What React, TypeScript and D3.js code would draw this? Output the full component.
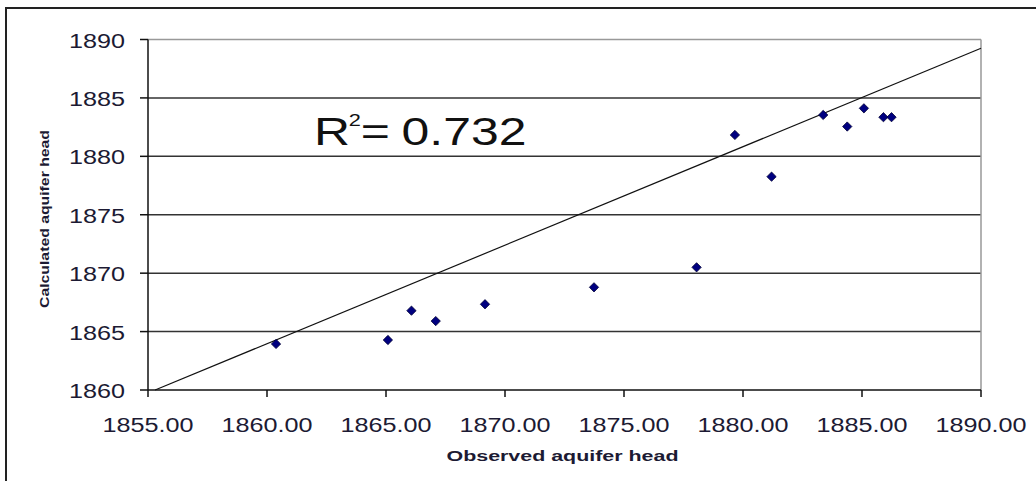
import React from "react";
import * as d3 from "d3";

// Observed vs calculated aquifer head (ft)
const observedHead = [
  1860.38, 1865.08, 1866.07, 1867.09, 1869.16, 1873.74, 1878.05,
  1879.66, 1881.2, 1883.37, 1884.38, 1885.08, 1885.9, 1886.24,
];
const calculatedHead = [
  1863.94, 1864.28, 1866.79, 1865.9, 1867.34, 1868.79, 1870.5,
  1881.83, 1878.26, 1883.54, 1882.55, 1884.11, 1883.35, 1883.35,
];
const xTicks = [1855, 1860, 1865, 1870, 1875, 1880, 1885, 1890];
const yTicks = [1860, 1865, 1870, 1875, 1880, 1885, 1890];
// Linear trendline: y = intercept + slope * x
const trendSlope = 0.843;
const trendIntercept = 1860.17 - 0.843 * 1855.5;
const rSquared = "0.732";

const W = 1036;
const H = 481;
const plot = { left: 148, right: 981, top: 39.5, bottom: 390 };
const SX = 1.2; // horizontal stretch of the lettering

export default function App() {
  const x = d3.scaleLinear().domain([1855, 1890]).range([plot.left, plot.right]);
  const y = d3.scaleLinear().domain([1860, 1890]).range([plot.bottom, plot.top]);

  // trendline clipped to the plot box
  const lineX0 = Math.max(1855, (1860 - trendIntercept) / trendSlope);
  const lineX1 = Math.min(1890, (1890 - trendIntercept) / trendSlope);
  const trend = d3.line<number>()
    .x((d) => x(d))
    .y((d) => y(trendIntercept + trendSlope * d))([lineX0, lineX1]);

  const diamond = d3.symbol().type(d3.symbolDiamond2).size(55)();

  const textColor = "#1c1a33";
  const font = "'Liberation Sans', Arial, sans-serif";

  return (
    <svg width={W} height={H} style={{ position: "absolute", left: 0, top: 0 }}>
      <rect x={0} y={0} width={W} height={H} fill="#fff" />
      {/* chart frame */}
      <rect x={6} y={8} width={W + 20} height={H + 20} fill="none" stroke="#222" strokeWidth={2} />

      {/* horizontal gridlines */}
      {yTicks.filter((t) => t !== 1860 && t !== 1890).map((t) => (
        <line key={t} x1={plot.left} x2={plot.right} y1={y(t)} y2={y(t)} stroke="#333" strokeWidth={1.5} />
      ))}
      {/* plot border top/right */}
      <line x1={plot.left} x2={plot.right} y1={plot.top} y2={plot.top} stroke="#999" strokeWidth={1.5} />
      <line x1={plot.right} x2={plot.right} y1={plot.top} y2={plot.bottom} stroke="#999" strokeWidth={1.5} />

      {/* axes */}
      <line x1={plot.left} x2={plot.left} y1={plot.top} y2={plot.bottom} stroke="#111" strokeWidth={1.5} />
      <line x1={plot.left} x2={plot.right} y1={plot.bottom} y2={plot.bottom} stroke="#111" strokeWidth={1.5} />
      {yTicks.map((t) => (
        <line key={t} x1={plot.left - 8} x2={plot.left} y1={y(t)} y2={y(t)} stroke="#111" strokeWidth={1.5} />
      ))}
      {xTicks.map((t) => (
        <line key={t} x1={x(t)} x2={x(t)} y1={plot.bottom} y2={plot.bottom + 7} stroke="#111" strokeWidth={1.5} />
      ))}

      {/* tick labels */}
      {yTicks.map((t) => (
        <text key={t} transform={`translate(125,${y(t) + 8}) scale(${SX},1)`} textAnchor="end"
          fontFamily={font} fontSize={21} fill={textColor}>{t}</text>
      ))}
      {xTicks.map((t) => (
        <text key={t} transform={`translate(${x(t)},${plot.bottom + 42}) scale(${SX},1)`} textAnchor="middle"
          fontFamily={font} fontSize={21} fill={textColor}>{t.toFixed(2)}</text>
      ))}

      {/* axis titles */}
      <text x={562.5} y={461} textAnchor="middle" fontFamily={font} fontSize={14} fontWeight="bold"
        fill={textColor} textLength={232} lengthAdjust="spacingAndGlyphs">Observed aquifer head</text>
      <text transform="translate(49,219) rotate(-90)" textAnchor="middle" fontFamily={font} fontSize={13}
        fontWeight="bold" fill={textColor} textLength={178} lengthAdjust="spacingAndGlyphs">Calculated aquifer head</text>

      {/* trendline */}
      <path d={trend ?? ""} fill="none" stroke="#111" strokeWidth={1.2} />

      {/* data points */}
      {observedHead.map((o, i) => (
        <path key={i} d={diamond ?? ""} transform={`translate(${x(o)},${y(calculatedHead[i])})`}
          fill="#000080" stroke="#000033" strokeWidth={0.8} />
      ))}

      {/* R-squared annotation */}
      <text transform="translate(314,145) scale(1.28,1)" fontFamily={font} fill="#111" fontSize={39}>
        <tspan>R</tspan>
        <tspan dx={-1} dy={-19} fontSize={17}>2</tspan>
        <tspan dx={0} dy={19}>=</tspan>
        <tspan dx={9}>{rSquared}</tspan>
      </text>
    </svg>
  );
}
